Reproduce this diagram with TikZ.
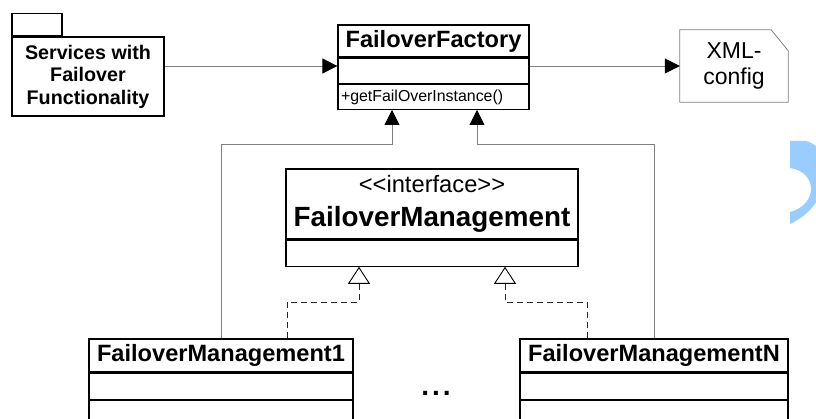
\documentclass[tikz,border=0pt]{standalone}
\usepackage{fontspec}
\setmainfont{Liberation Sans}
\usetikzlibrary{arrows.meta,positioning}
\definecolor{paleblue}{RGB}{153,204,255}

\begin{document}
\begin{tikzpicture}[x=1pt,y=-1pt]

    \tikzstyle{sect} = [draw, line width=1.2pt, fill=white, inner sep=0pt]
    \tikzstyle{title} = [font=\bfseries\fontsize{23.6}{28}\selectfont]
    \tikzstyle{conn} = [draw=gray, line width=0.8pt, -{Triangle[length=15pt,width=15pt,black]}]
    \tikzstyle{real} = [draw=black!85, line width=0.9pt, dash pattern=on 6pt off 4pt, -{Triangle[open,fill=white,length=17pt,width=22pt,black,line width=0.9pt]}]

    \clip (0,0) rectangle (816,419);
    \fill[white] (0,0) rectangle (816,419);

    % Decoration at right edge
    \fill[paleblue] (790,141) -- (806,141) .. controls (838,150) and (832,205) .. (790,224) -- (790,212) .. controls (818,205) and (818,172) .. (790,168) -- cycle;

    % Nodes
    \node[sect, minimum width=152, minimum height=79, align=center, font=\bfseries\fontsize{19.7}{22.5}\selectfont] at (88,76.5) (svc) {Services with\\Failover\\Functionality};
    \node[sect, minimum width=50, minimum height=22, above right=0pt of svc.north west] (svctab) {};

    \node[sect, title, minimum width=191, minimum height=32] at (433.5,41) (fft) {FailoverFactory};
    \node[sect, minimum width=191, minimum height=25, below=0pt of fft] (ffa) {};
    \node[sect, minimum width=191, minimum height=25, text width=185, align=left, font=\fontsize{15.9}{18}\selectfont, below=0pt of ffa] (ffm) {+getFailOverInstance()};

    \node[minimum width=108, minimum height=72, align=center, font=\fontsize{23}{26}\selectfont] at (734,66) (xml) {XML-\\config};
    \draw[gray, line width=0.8pt] (xml.south west) -- (xml.north west) -- ([xshift=-17pt]xml.north east) -- ([yshift=-21pt]xml.north east) -- (xml.south east) -- cycle;

    \node[sect, minimum width=292, minimum height=70, align=center, font=\fontsize{23.7}{34}\selectfont] at (432,204) (ift) {{<}{<}interface{>}{>}\\{\bfseries\fontsize{27.8}{34}\selectfont FailoverManagement}};
    \node[sect, minimum width=292, minimum height=26, below=0pt of ift] (ifa) {};

    \node[sect, title, minimum width=264, minimum height=33] at (221,355.5) (fm1t) {FailoverManagement1};
    \node[sect, minimum width=264, minimum height=26, below=0pt of fm1t] (fm1a) {};
    \node[sect, minimum width=264, minimum height=40, below=0pt of fm1a] (fm1m) {};

    \node[sect, title, minimum width=268, minimum height=33] at (654,355.5) (fmNt) {FailoverManagementN};
    \node[sect, minimum width=268, minimum height=26, below=0pt of fmNt] (fmNa) {};
    \node[sect, minimum width=268, minimum height=40, below=0pt of fmNa] (fmNm) {};

    \node[anchor=base, inner sep=0pt, font=\bfseries\fontsize{28}{30}\selectfont] at (436,395) (dots) {.\kern3pt.\kern3pt.};

    % Arrows
    \coordinate (lvl) at (0,66);
    \draw[conn] (svc.east |- lvl) -- (ffa.west |- lvl);
    \draw[conn] (ffa.east |- lvl) -- (xml.west);
    \draw[conn] (fm1t.north) -- ++(0,-194) -| ([xshift=-41.5pt]ffm.south);
    \draw[conn] (fmNt.north) -- ++(0,-194) -| ([xshift=43.5pt]ffm.south);
    \draw[real] ([xshift=66pt]fm1t.north) -- ++(0,-36) -| ([xshift=-73pt]ifa.south);
    \draw[real] ([xshift=-67pt]fmNt.north) -- ++(0,-36) -| ([xshift=73pt]ifa.south);

\end{tikzpicture}
\end{document}
